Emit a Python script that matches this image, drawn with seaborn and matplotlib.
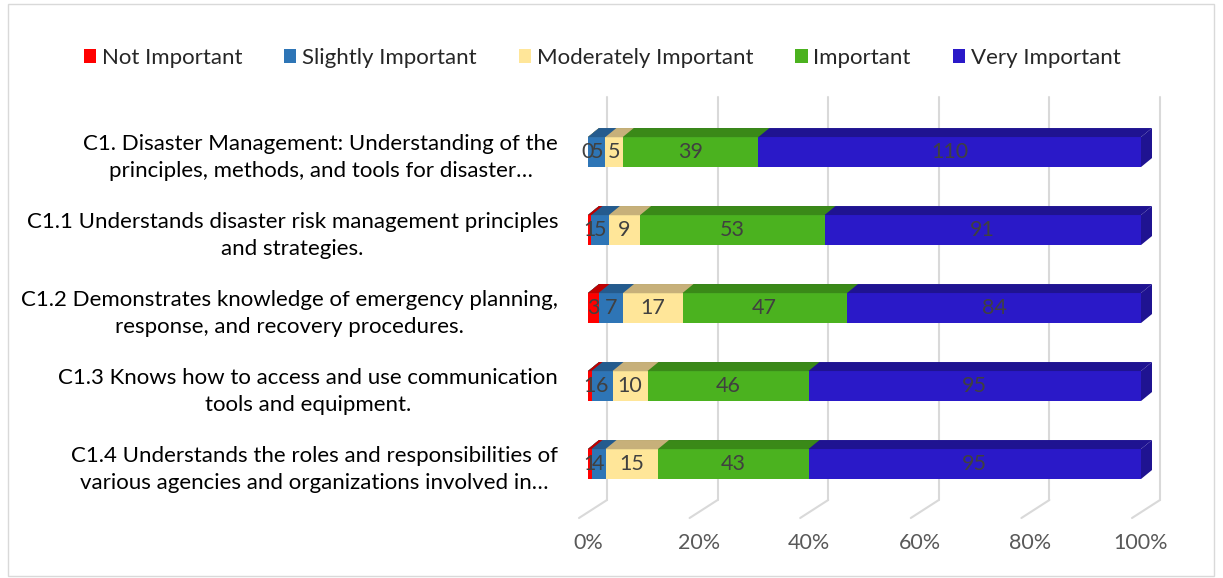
import numpy as np
import pandas as pd
import matplotlib
matplotlib.use("Agg")
import matplotlib.pyplot as plt
import seaborn as sns
from matplotlib.patches import Polygon, Rectangle
from matplotlib.lines import Line2D

# --- dados ---
questions = [
    "C1. Disaster Management: Understanding of the\nprinciples, methods, and tools for disaster…",
    "C1.1 Understands disaster risk management principles\nand strategies.",
    "C1.2 Demonstrates knowledge of emergency planning,\nresponse, and recovery procedures.",
    "C1.3 Knows how to access and use communication\ntools and equipment.",
    "C1.4 Understands the roles and responsibilities of\nvarious agencies and organizations involved in…",
]
levels = ["Not Important", "Slightly Important", "Moderately Important", "Important", "Very Important"]
not_important = [0, 1, 3, 1, 1]
slightly_important = [5, 5, 7, 6, 4]
moderately_important = [5, 9, 17, 10, 15]
important = [39, 53, 47, 46, 43]
very_important = [110, 91, 84, 95, 95]

colors = ["#FF0000", "#2E75B6", "#FFE699", "#4BB21F", "#2A19C8"]
top_colors = ["#C00000", "#245B8E", "#C7B07A", "#3A8918", "#1F1391"]
ticks = [0, 20, 40, 60, 80, 100]

counts = np.array([not_important, slightly_important, moderately_important,
                   important, very_important], dtype=float)
pct = counts / counts.sum(axis=0) * 100
cum = np.cumsum(pct, axis=0)

df = pd.DataFrame({"question": questions})
for i, lvl in enumerate(levels):
    df[lvl] = cum[i]

sns.set_theme(style="white")
plt.rcParams["font.family"] = ["Lato", "DejaVu Sans"]

W, H = 1223, 578
fig = plt.figure(figsize=(W / 100, H / 100), dpi=100)
ax = fig.add_axes([588 / W, 1 - 512 / H, (1141 - 588) / W, (512 - 105) / H])
ax.set_zorder(2)  # barras por cima da grade do fundo

bar_w = 30 / 78
# barras empilhadas: desenha da maior soma acumulada para a menor
for i in range(len(levels) - 1, -1, -1):
    sns.barplot(data=df, x=levels[i], y="question", color=colors[i], orient="h",
                width=bar_w, ax=ax, saturation=1, linewidth=0, zorder=3)

ax.set_xlim(0, 100)
ax.set_ylim(4.615, -0.603)
ax.set_xlabel("")
ax.set_ylabel("")
ax.set_xticks(ticks)
ax.set_xticklabels([f"{t}%" for t in ticks], fontsize=15.5, color="#595959")
ax.tick_params(axis="x", length=0, pad=15)
ax.tick_params(axis="y", length=0, pad=21.5)
for lab in ax.get_yticklabels():
    lab.set_fontsize(16)
    lab.set_color("#000000")
    lab.set_multialignment("center")
    lab.set_linespacing(1.45)
for s in ax.spines.values():
    s.set_visible(False)
ax.patch.set_alpha(0)

# efeito 3D (faces superior e lateral), em pixels
dx, dy = 11, 9
to_px = ax.transData.transform
n_q = len(questions)
for k, p in enumerate(ax.patches):
    lvl_idx = len(levels) - 1 - k // n_q
    x0, y0 = p.get_x(), p.get_y()
    x1, y1 = x0 + p.get_width(), y0 + p.get_height()
    (ax0, ay_top) = to_px((x0, y0))
    (ax1, _) = to_px((x1, y0))
    (_, ay_bot) = to_px((x0, y1))
    top = Polygon([(ax0, ay_top), (ax1, ay_top), (ax1 + dx, ay_top + dy), (ax0 + dx, ay_top + dy)],
                  closed=True, transform=None, facecolor=top_colors[lvl_idx],
                  edgecolor="none", zorder=3)
    fig.add_artist(top)
    if lvl_idx == len(levels) - 1:
        side = Polygon([(ax1, ay_top), (ax1 + dx, ay_top + dy), (ax1 + dx, ay_bot + dy), (ax1, ay_bot)],
                       closed=True, transform=None, facecolor=top_colors[lvl_idx],
                       edgecolor="none", zorder=3)
        fig.add_artist(side)

# grade na parede do fundo + diagonais do piso
for t in ticks:
    tx = to_px((t, 0))[0]
    gx = tx + 19
    fig.add_artist(Line2D([gx, gx], [H - 500, H - 97], transform=None,
                          color="#D9D9D9", lw=1.5, zorder=1))
    fig.add_artist(Line2D([gx, tx - 9], [H - 500, H - 518], transform=None,
                          color="#D9D9D9", lw=1.5, zorder=1))

# rótulos de valores
for j in range(n_q):
    for i in range(len(levels)):
        left = cum[i - 1, j] if i > 0 else 0
        ax.text(left + pct[i, j] / 2, j, f"{int(counts[i, j])}", ha="center", va="center",
                fontsize=15.5, color="#404040", zorder=5)

# legenda
handles = [Rectangle((0, 0), 1, 1, facecolor=c, edgecolor="none") for c in colors]
fig.legend(handles, levels, loc="center", bbox_to_anchor=(602 / W, 1 - 58 / H), ncol=5,
           frameon=False, fontsize=16, handlelength=0.55, handleheight=0.55,
           handletextpad=0.25, columnspacing=1.9)

# borda do gráfico
fig.add_artist(Rectangle((8, 2), W - 17, H - 6, transform=None, fill=False,
                         edgecolor="#D9D9D9", lw=1))

fig.savefig("out.png", dpi=100)
